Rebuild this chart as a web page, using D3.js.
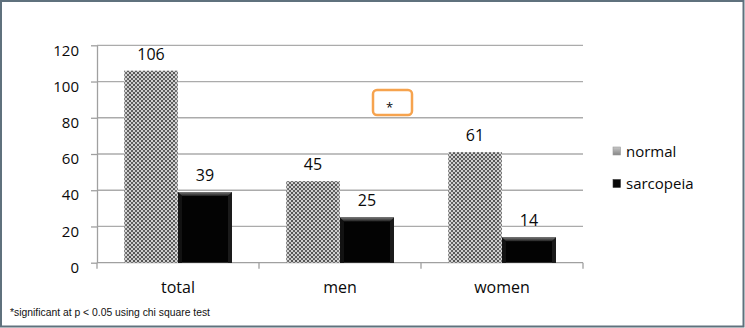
<!DOCTYPE html>
<html>
<head>
<meta charset="utf-8">
<script src="https://cdn.jsdelivr.net/npm/d3@7/dist/d3.min.js"></script>
<style>
  html, body { margin: 0; padding: 0; background: #fff; }
  svg { display: block; }
  .lbl { font-family: "Open Sans", "Noto Sans", sans-serif; fill: #0a0a0a; }
</style>
</head>
<body>
<svg id="chart" width="745" height="328"></svg>
<script>
// Counts by group
const categories = ["total", "men", "women"];
const seriesNames = ["normal", "sarcopeia"];
const normalValues = [106, 45, 61];
const sarcopeiaValues = [39, 25, 14];
const yTicks = [0, 20, 40, 60, 80, 100, 120];
const footnote = "*significant at p < 0.05 using chi square test";

const svg = d3.select("#chart");
const W = 745, H = 328;
const plot = { left: 97, right: 583, top: 45.3, bottom: 262.7 };

const valuesBySeries = { normal: normalValues, sarcopeia: sarcopeiaValues };
const rows = categories.map((c, i) => ({
  category: c,
  values: seriesNames.map(s => ({ series: s, value: valuesBySeries[s][i] }))
}));

// Outer frame
svg.append("rect")
  .attr("x", 1).attr("y", 1).attr("width", W - 2.5).attr("height", H - 2.5)
  .attr("fill", "#fff").attr("stroke", "#5f717d").attr("stroke-width", 2);

// Patterns and gradients
const defs = svg.append("defs");
const pat = defs.append("pattern")
  .attr("id", "dots").attr("patternUnits", "userSpaceOnUse")
  .attr("width", 4).attr("height", 4);
pat.append("rect").attr("width", 4).attr("height", 4).attr("fill", "#cfcfcf");
pat.append("rect").attr("width", 2).attr("height", 2).attr("fill", "#565656");
pat.append("rect").attr("x", 2).attr("y", 2).attr("width", 2).attr("height", 2).attr("fill", "#606060");

const edge = defs.append("linearGradient").attr("id", "dotEdge")
  .attr("x1", 0).attr("x2", 1).attr("y1", 0).attr("y2", 0);
edge.append("stop").attr("offset", "0%").attr("stop-color", "#fff").attr("stop-opacity", 0.3);
edge.append("stop").attr("offset", "7%").attr("stop-color", "#fff").attr("stop-opacity", 0);
edge.append("stop").attr("offset", "93%").attr("stop-color", "#fff").attr("stop-opacity", 0);
edge.append("stop").attr("offset", "100%").attr("stop-color", "#fff").attr("stop-opacity", 0.25);

const bevel = defs.append("linearGradient").attr("id", "bevelTop")
  .attr("x1", 0).attr("x2", 0).attr("y1", 0).attr("y2", 1);
bevel.append("stop").attr("offset", "0%").attr("stop-color", "#7a7a7a");
bevel.append("stop").attr("offset", "100%").attr("stop-color", "#1e1e1e");

const legendGrad = defs.append("linearGradient").attr("id", "legendGray")
  .attr("x1", 0).attr("x2", 0).attr("y1", 0).attr("y2", 1);
legendGrad.append("stop").attr("offset", "0%").attr("stop-color", "#c8c8c8");
legendGrad.append("stop").attr("offset", "100%").attr("stop-color", "#858585");

// Scales
const x0 = d3.scaleBand().domain(categories).range([plot.left, plot.right]).padding(0);
const x1 = d3.scaleBand().domain(seriesNames).range([0, x0.bandwidth()])
  .paddingInner(0).paddingOuter(0.5);
const y = d3.scaleLinear().domain([0, 120]).range([plot.bottom, plot.top]);

// Gridlines
svg.append("g")
  .selectAll("line")
  .data(yTicks.filter(t => t > 0))
  .join("line")
  .attr("x1", plot.left).attr("x2", plot.right)
  .attr("y1", d => y(d)).attr("y2", d => y(d))
  .attr("stroke", "#ababab").attr("stroke-width", 1.3);

// Y axis
const yAxis = svg.append("g")
  .attr("transform", `translate(${plot.left},0)`)
  .call(d3.axisLeft(y).tickValues(yTicks).tickSize(6).tickPadding(12).tickSizeOuter(0));
yAxis.select(".domain").attr("stroke", "#a0a0a0").attr("stroke-width", 1.3);
yAxis.selectAll(".tick line").attr("stroke", "#a0a0a0").attr("stroke-width", 1.3);
yAxis.selectAll(".tick text")
  .attr("class", "lbl").attr("font-size", 15).attr("dy", "0.65em");

// X axis: ticks at category boundaries
const xAxis = svg.append("g").attr("transform", `translate(0,${plot.bottom})`);
xAxis.append("line")
  .attr("x1", plot.left).attr("x2", plot.right)
  .attr("stroke", "#a0a0a0").attr("stroke-width", 1.3);
const boundaries = categories.map(c => x0(c)).concat([x0(categories[categories.length - 1]) + x0.bandwidth()]);
xAxis.selectAll("line.bound")
  .data(boundaries)
  .join("line").attr("class", "bound")
  .attr("x1", d => d).attr("x2", d => d)
  .attr("y1", 0).attr("y2", 6)
  .attr("stroke", "#a0a0a0").attr("stroke-width", 1.3);
xAxis.selectAll("text")
  .data(categories)
  .join("text")
  .attr("class", "lbl")
  .attr("x", d => x0(d) + x0.bandwidth() / 2)
  .attr("y", 30.5)
  .attr("text-anchor", "middle")
  .attr("font-size", 16)
  .text(d => d);

// Bars
const groups = svg.append("g").selectAll("g")
  .data(rows)
  .join("g")
  .attr("transform", d => `translate(${x0(d.category)},0)`);

groups.each(function(row) {
  const g = d3.select(this);
  row.values.forEach(v => {
    const bx = x1(v.series), bw = x1.bandwidth();
    const top = y(v.value), h = y(0) - top;
    if (v.series === "normal") {
      g.append("rect").attr("x", bx).attr("y", top).attr("width", bw).attr("height", h)
        .attr("fill", "url(#dots)");
      g.append("rect").attr("x", bx).attr("y", top).attr("width", bw).attr("height", h)
        .attr("fill", "url(#dotEdge)");
    } else {
      const b = 4;
      g.append("rect").attr("x", bx).attr("y", top).attr("width", bw).attr("height", h)
        .attr("fill", "#030303");
      g.append("polygon")
        .attr("points", [[bx, top], [bx + b, top + b], [bx + b, top + h], [bx, top + h]].map(p => p.join(",")).join(" "))
        .attr("fill", "#121212");
      g.append("polygon")
        .attr("points", [[bx + bw, top], [bx + bw - b, top + b], [bx + bw - b, top + h], [bx + bw, top + h]].map(p => p.join(",")).join(" "))
        .attr("fill", "#1a1a1a");
      g.append("polygon")
        .attr("points", [[bx, top], [bx + bw, top], [bx + bw - b, top + b], [bx + b, top + b]].map(p => p.join(",")).join(" "))
        .attr("fill", "url(#bevelTop)");
    }
    g.append("text")
      .attr("class", "lbl")
      .attr("x", bx + bw / 2)
      .attr("y", top - 11)
      .attr("text-anchor", "middle")
      .attr("font-size", 16)
      .text(v.value);
  });
});

// Significance marker
svg.append("rect")
  .attr("x", 373).attr("y", 90).attr("width", 39).attr("height", 25).attr("rx", 4)
  .attr("fill", "#fff").attr("stroke", "#f6a34e").attr("stroke-width", 2.5);
svg.append("text")
  .attr("class", "lbl")
  .attr("x", 389.5).attr("y", 112)
  .attr("text-anchor", "middle").attr("font-size", 13)
  .text("*");

// Legend
const legend = svg.append("g").attr("transform", "translate(613,147)");
const li = legend.selectAll("g")
  .data(seriesNames)
  .join("g")
  .attr("transform", (d, i) => `translate(0,${i * 32.5})`);
li.append("rect")
  .attr("width", 7.5).attr("height", 8)
  .attr("fill", d => d === "normal" ? "url(#legendGray)" : "#080808")
  .attr("stroke", d => d === "normal" ? "#9a9a9a" : "#3a3a3a").attr("stroke-width", 0.6);
li.append("text")
  .attr("class", "lbl")
  .attr("x", 13).attr("y", 9.5)
  .attr("font-size", 15)
  .text(d => d);

// Footnote
svg.append("text")
  .attr("x", 10).attr("y", 316)
  .attr("font-family", "'Liberation Sans Narrow', 'Liberation Sans', Arial, sans-serif")
  .attr("font-size", 11.5)
  .attr("fill", "#111")
  .attr("textLength", 200).attr("lengthAdjust", "spacingAndGlyphs")
  .text(footnote);
</script>
</body>
</html>
